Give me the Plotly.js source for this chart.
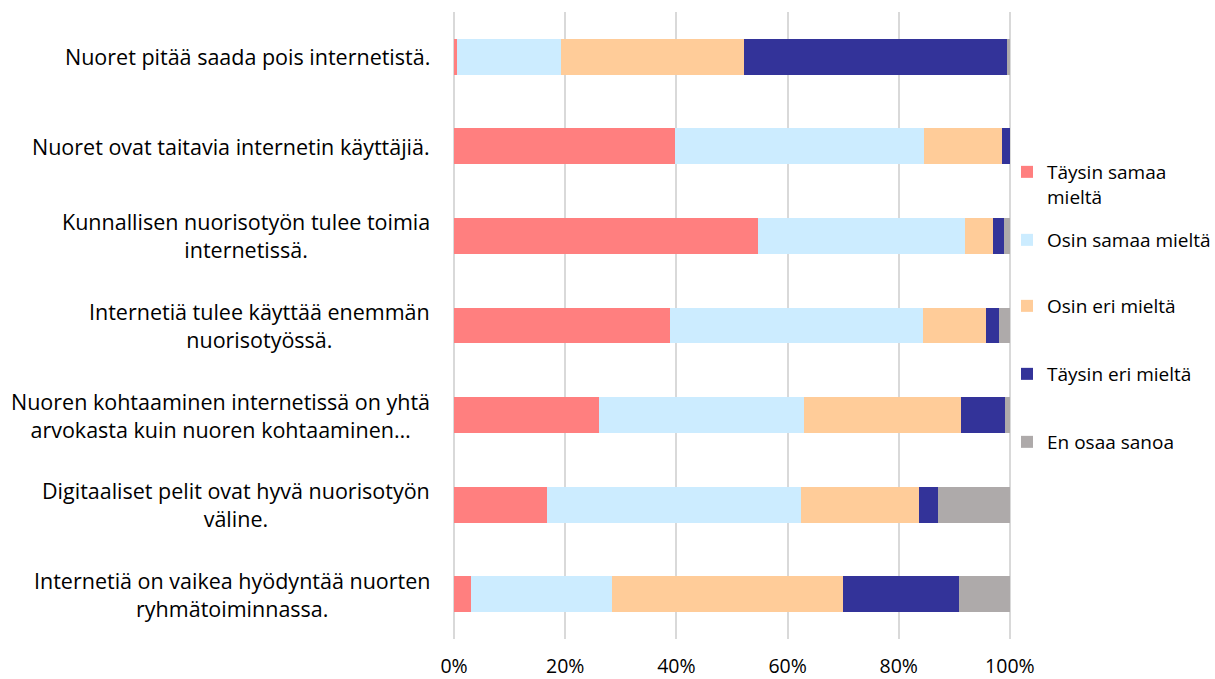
<!DOCTYPE html>
<html>
<head>
<meta charset="utf-8">
<script src="https://cdn.plot.ly/plotly-3.0.1.min.js"></script>
<style>
  html, body { margin: 0; padding: 0; background: #fff; }
  #chart { width: 1215px; height: 679px; }
</style>
</head>
<body>
<div id="chart"></div>
<script>
const categories = [
  'Nuoret pitää saada pois internetistä.',
  'Nuoret ovat taitavia internetin käyttäjiä.',
  'Kunnallisen nuorisotyön tulee toimia<br>internetissä.',
  'Internetiä tulee käyttää enemmän<br>nuorisotyössä.',
  'Nuoren kohtaaminen internetissä on yhtä<br>arvokasta kuin nuoren kohtaaminen…',
  'Digitaaliset pelit ovat hyvä nuorisotyön<br>väline.',
  'Internetiä on vaikea hyödyntää nuorten<br>ryhmätoiminnassa.'
];

const seriesNames = [
  'Täysin samaa<br>mieltä',
  'Osin samaa mieltä',
  'Osin eri mieltä',
  'Täysin eri mieltä',
  'En osaa sanoa'
];

const taysinSamaa = [0.6, 39.8, 54.7, 38.8, 26.0, 16.8, 3.0];
const osinSamaa   = [18.6, 44.8, 37.2, 45.6, 36.9, 45.6, 25.4];
const osinEri     = [32.9, 14.0, 5.0, 11.3, 28.3, 21.3, 41.6];
const taysinEri   = [47.3, 1.4, 2.1, 2.4, 8.0, 3.3, 20.9];
const eiOsaa      = [0.6, 0, 1.0, 1.9, 0.8, 13.0, 9.1];

const xTicks = [0, 20, 40, 60, 80, 100];

const series = [taysinSamaa, osinSamaa, osinEri, taysinEri, eiOsaa];
const colors = ['#FF7F7F', '#CCECFF', '#FFCC99', '#333399', '#AEAAAA'];
// legend marker rows (pixels from top), one legend box per series
const legendRows = [170, 240, 306, 374, 442];

const font = '"Open Sans", sans-serif';

let graph = series.map(function(vals, i) {
  return {
    type: 'bar',
    orientation: 'h',
    x: vals,
    y: categories,
    name: seriesNames[i],
    legend: i === 0 ? 'legend' : 'legend' + (i + 1),
    showlegend: true,
    marker: { color: colors[i] },
    hoverinfo: 'x+name'
  };
});

let layout = {
  width: 1215,
  height: 679,
  margin: { l: 453, r: 204, t: 12, b: 40, autoexpand: false },
  paper_bgcolor: '#fff',
  plot_bgcolor: '#fff',
  barmode: 'stack',
  bargap: 0.6,
  showlegend: true,
  font: { family: font, size: 19, color: '#000' },
  xaxis: {
    range: [-0.2, 100.2],
    tickvals: xTicks,
    ticktext: xTicks.map(function(v) { return v + '%'; }),
    showgrid: true,
    gridcolor: '#D9D9D9',
    gridwidth: 1.5,
    zeroline: false,
    showline: false,
    ticks: '',
    ticklabelstandoff: 13,
    tickfont: { family: font, size: 19.5, color: '#000' },
    fixedrange: true
  },
  yaxis: {
    autorange: 'reversed',
    showticklabels: false,
    showgrid: false,
    zeroline: false,
    ticks: '',
    fixedrange: true
  },
  annotations: categories.map(function(c) {
    return {
      text: c,
      x: 0,
      xref: 'paper',
      y: c,
      yref: 'y',
      xanchor: 'right',
      yanchor: 'middle',
      xshift: -21,
      align: 'center',
      showarrow: false,
      font: { family: font, size: 21.5, color: '#000' }
    };
  })
};

legendRows.forEach(function(row, i) {
  let key = i === 0 ? 'legend' : 'legend' + (i + 1);
  layout[key] = {
    visible: true,
    xref: 'container',
    yref: 'container',
    x: 1007 / 1215,
    y: 1 - row / 679,
    xanchor: 'left',
    yanchor: 'middle',
    valign: 'top',
    bgcolor: 'rgba(0,0,0,0)',
    font: { family: font, size: 19, color: '#000' }
  };
});
layout.legend.yanchor = 'top';
layout.legend.y = 1 - (legendRows[0] - 17) / 679;

let config = {
  responsive: false,
  displayModeBar: false
};

Plotly.newPlot('chart', graph, layout, config);
</script>
</body>
</html>
